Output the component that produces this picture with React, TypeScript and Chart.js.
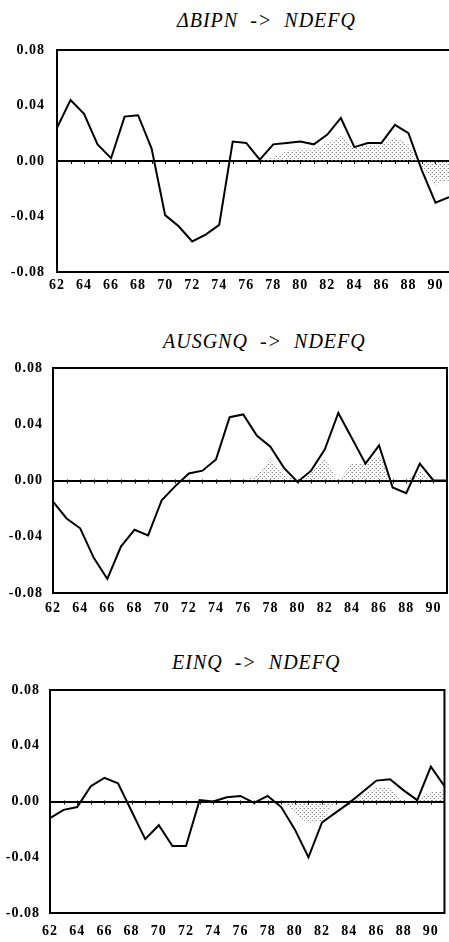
import React, { useEffect, useRef } from "react";
import { Chart, registerables } from "chart.js";

Chart.register(...registerables);

// ---- data ----
const years = [62, 63, 64, 65, 66, 67, 68, 69, 70, 71, 72, 73, 74, 75, 76, 77, 78, 79, 80, 81, 82, 83, 84, 85, 86, 87, 88, 89, 90, 91];
const xTickYears = [62, 64, 66, 68, 70, 72, 74, 76, 78, 80, 82, 84, 86, 88, 90];
const yTicks = [-0.08, -0.04, 0, 0.04, 0.08];

const bipnTitle = "ΔBIPN  ->  NDEFQ";
const bipnValues = [0.024, 0.044, 0.034, 0.012, 0.002, 0.032, 0.033, 0.009, -0.039, -0.047, -0.058, -0.053, -0.046, 0.014, 0.013, 0.001, 0.012, 0.013, 0.014, 0.012, 0.019, 0.031, 0.010, 0.013, 0.013, 0.026, 0.020, -0.007, -0.030, -0.026];
const bipnBand = [0, 0, 0, 0, 0, 0, 0, 0, 0, 0, 0, 0, 0, 0, 0, 0, 0.003, 0.007, 0.009, 0.009, 0.013, 0.018, 0.010, 0.011, 0.012, 0.017, 0.012, -0.004, -0.017, -0.014];

const ausgnqTitle = "AUSGNQ  ->  NDEFQ";
const ausgnqValues = [-0.015, -0.027, -0.034, -0.055, -0.070, -0.047, -0.035, -0.039, -0.014, -0.004, 0.005, 0.007, 0.015, 0.045, 0.047, 0.032, 0.024, 0.009, -0.001, 0.007, 0.022, 0.048, 0.030, 0.012, 0.025, -0.005, -0.009, 0.012, 0.000, 0.000];
const ausgnqBand = [0, 0, 0, 0, 0, 0, 0, 0, 0, 0, 0, 0, 0, 0, 0, 0.004, 0.016, 0.004, 0, 0.006, 0.016, 0, 0.012, 0.012, 0.018, 0, 0, 0.007, 0, 0];

const einqTitle = "EINQ  ->  NDEFQ";
const einqValues = [-0.012, -0.006, -0.004, 0.011, 0.017, 0.013, -0.007, -0.027, -0.017, -0.032, -0.032, 0.001, 0.000, 0.003, 0.004, -0.001, 0.004, -0.004, -0.020, -0.040, -0.015, -0.008, -0.001, 0.007, 0.015, 0.016, 0.008, 0.001, 0.025, 0.011];
const einqBand = [0, 0, 0, 0, 0, 0, 0, 0, 0, 0, 0, 0, 0, 0, 0, 0, 0, 0, -0.008, -0.016, -0.014, 0, 0, 0.005, 0.010, 0.010, 0, 0.001, 0.007, 0.008];

// ---- layout ----
type Layout = {
  top: number;
  height: number;
  padTop: number;
  plotLeft: number;
  padRight: number;
  xAxisH: number;
  yPad: number;
  xPad: number;
  sides: { top: boolean; left: boolean; bottom: boolean; right: boolean };
  titleLeft: number;
  titleTop: number;
};

const layouts: Layout[] = [
  { top: 0, height: 300, padTop: 50, plotLeft: 57, padRight: 0, xAxisH: 28, yPad: 12, xPad: 5, sides: { top: true, left: true, bottom: true, right: false }, titleLeft: 177, titleTop: 10 },
  { top: 300, height: 320, padTop: 68, plotLeft: 53, padRight: 2, xAxisH: 27, yPad: 10, xPad: 7, sides: { top: true, left: true, bottom: true, right: true }, titleLeft: 163, titleTop: 331 },
  { top: 620, height: 322, padTop: 70, plotLeft: 50, padRight: 4, xAxisH: 29, yPad: 10, xPad: 10, sides: { top: true, left: true, bottom: true, right: true }, titleLeft: 172, titleTop: 652 },
];

const FONT = "'Liberation Serif', 'Times New Roman', serif";

function makeStipple(): CanvasPattern | string {
  const pc = document.createElement("canvas");
  pc.width = 4;
  pc.height = 4;
  const p = pc.getContext("2d");
  if (!p) return "#e4e4e4";
  p.fillStyle = "rgba(105,105,105,0.8)";
  p.fillRect(0, 0, 1, 1);
  p.fillRect(2, 2, 1, 1);
  p.fillStyle = "rgba(160,160,160,0.5)";
  p.fillRect(3, 0, 1, 1);
  const pat = p.createPattern(pc, "repeat");
  return pat || "#e4e4e4";
}

function Panel(props: { title: string; values: number[]; band: number[]; layout: Layout }) {
  const ref = useRef<HTMLCanvasElement | null>(null);
  const { title, values, band, layout } = props;

  useEffect(() => {
    if (!ref.current) return;
    const stipple = makeStipple();

    const spacingPlugin = {
      id: "spacing",
      beforeLayout(chart: any) {
        chart.ctx.letterSpacing = "1px";
      },
      beforeDraw(chart: any) {
        chart.ctx.letterSpacing = "1px";
      },
    };

    const framePlugin = {
      id: "frame",
      afterDraw(chart: any) {
        const { ctx, chartArea } = chart;
        const { left, right, top, bottom } = chartArea;
        ctx.save();
        ctx.strokeStyle = "#000";
        ctx.lineWidth = 2;
        ctx.beginPath();
        if (layout.sides.top) { ctx.moveTo(left - 1, top); ctx.lineTo(right + 1, top); }
        if (layout.sides.bottom) { ctx.moveTo(left - 1, bottom); ctx.lineTo(right + 1, bottom); }
        if (layout.sides.left) { ctx.moveTo(left, top - 1); ctx.lineTo(left, bottom + 1); }
        if (layout.sides.right) { ctx.moveTo(right, top - 1); ctx.lineTo(right, bottom + 1); }
        ctx.stroke();
        // small year marks on the zero line
        const y0 = chart.scales.y.getPixelForValue(0);
        ctx.lineWidth = 1;
        ctx.beginPath();
        years.forEach((yr) => {
          const x = Math.round(chart.scales.x.getPixelForValue(yr)) + 0.5;
          ctx.moveTo(x, y0 - 1);
          ctx.lineTo(x, y0 + 3);
        });
        ctx.stroke();
        ctx.restore();
      },
    };

    const chart = new Chart(ref.current, {
      type: "line",
      data: {
        datasets: [
          {
            data: years.map((yr, i) => ({ x: yr, y: values[i] })),
            borderColor: "#000",
            borderWidth: 2,
            pointRadius: 0,
            tension: 0,
            fill: false,
          },
          {
            data: years.map((yr, i) => ({ x: yr, y: band[i] })),
            borderWidth: 0,
            borderColor: "rgba(0,0,0,0)",
            backgroundColor: stipple as any,
            pointRadius: 0,
            tension: 0,
            fill: "origin",
          },
        ],
      },
      options: {
        animation: false,
        responsive: false,
        maintainAspectRatio: false,
        events: [],
        layout: { padding: { top: layout.padTop, right: layout.padRight, left: 0, bottom: 0 } },
        plugins: { legend: { display: false }, tooltip: { enabled: false }, title: { display: false } },
        scales: {
          x: {
            type: "linear",
            min: years[0],
            max: years[years.length - 1],
            afterBuildTicks: (axis: any) => {
              axis.ticks = xTickYears.map((v) => ({ value: v }));
            },
            afterFit: (axis: any) => {
              axis.height = layout.xAxisH;
            },
            grid: { display: false, drawTicks: false },
            border: { display: false },
            ticks: {
              autoSkip: false,
              maxRotation: 0,
              padding: layout.xPad,
              color: "#000",
              font: { family: FONT, size: 14, weight: "bold" },
              callback: (v: any) => String(v),
            },
          },
          y: {
            min: -0.08,
            max: 0.08,
            afterBuildTicks: (axis: any) => {
              axis.ticks = yTicks.map((v) => ({ value: v }));
            },
            afterFit: (axis: any) => {
              axis.width = layout.plotLeft;
            },
            grid: {
              drawTicks: false,
              lineWidth: 2,
              color: (c: any) => (c.tick && c.tick.value === 0 ? "#000" : "rgba(0,0,0,0)"),
            },
            border: { display: false },
            ticks: {
              padding: layout.yPad,
              color: "#000",
              font: { family: FONT, size: 14, weight: "bold" },
              callback: (v: any) => Number(v).toFixed(2),
            },
          },
        },
      },
      plugins: [spacingPlugin, framePlugin],
    } as any);

    return () => chart.destroy();
  }, [values, band, layout]);

  return (
    <>
      <div
        style={{
          position: "absolute",
          left: layout.titleLeft,
          top: layout.titleTop,
          font: `italic 20px ${FONT}`,
          lineHeight: "20px",
          letterSpacing: "1px",
          whiteSpace: "pre",
          color: "#000",
        }}
      >
        {title}
      </div>
      <canvas
        ref={ref}
        width={449}
        height={layout.height}
        style={{ position: "absolute", left: 0, top: layout.top, width: 449, height: layout.height }}
      />
    </>
  );
}

export default function App() {
  return (
    <div style={{ position: "absolute", left: 0, top: 0, width: 449, height: 942, overflow: "hidden", background: "#fff" }}>
      <Panel title={bipnTitle} values={bipnValues} band={bipnBand} layout={layouts[0]} />
      <Panel title={ausgnqTitle} values={ausgnqValues} band={ausgnqBand} layout={layouts[1]} />
      <Panel title={einqTitle} values={einqValues} band={einqBand} layout={layouts[2]} />
    </div>
  );
}
